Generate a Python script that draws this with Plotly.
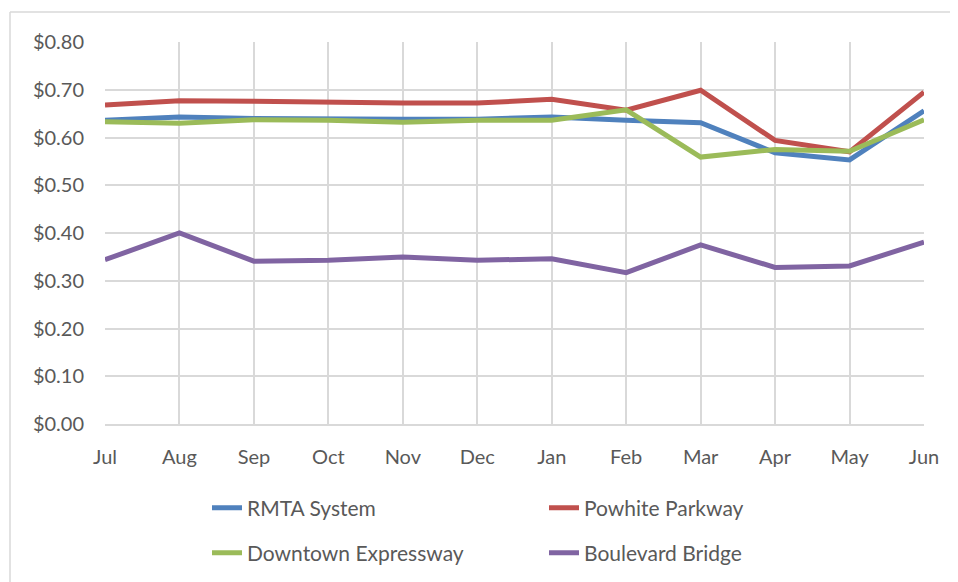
import plotly.graph_objects as go

months = ["Jul", "Aug", "Sep", "Oct", "Nov", "Dec", "Jan", "Feb", "Mar", "Apr", "May", "Jun"]
rmta = [0.636, 0.643, 0.640, 0.638, 0.638, 0.638, 0.643, 0.636, 0.631, 0.568, 0.553, 0.656]
powhite = [0.668, 0.677, 0.676, 0.673, 0.672, 0.672, 0.680, 0.657, 0.699, 0.594, 0.570, 0.695]
downtown = [0.633, 0.630, 0.637, 0.636, 0.632, 0.636, 0.636, 0.658, 0.559, 0.575, 0.571, 0.637]
boulevard = [0.344, 0.400, 0.341, 0.343, 0.350, 0.343, 0.346, 0.317, 0.375, 0.328, 0.331, 0.381]
y_ticks = [0.0, 0.1, 0.2, 0.3, 0.4, 0.5, 0.6, 0.7, 0.8]

series = [
    ("RMTA System", rmta, "#4F81BD", "legend"),
    ("Powhite Parkway", powhite, "#C0504D", "legend"),
    ("Downtown Expressway", downtown, "#9BBB59", "legend2"),
    ("Boulevard Bridge", boulevard, "#8064A2", "legend2"),
]

FONT = "Lato"
GRAY = "#595959"
GRID = "#d9d9d9"

fig = go.Figure()
for name, vals, color, lg in series:
    fig.add_trace(go.Scatter(x=months, y=vals, name=name, mode="lines",
                             line=dict(color=color, width=5), legend=lg))

# page body is offset by 8px; work in screen coords and convert
OFF = 8
W, H = 950, 574
L, R, T = 105 - OFF, 34, 42 - OFF
B = H - (424 - OFF)
pw, ph = W - L - R, H - T - B

def px(x):
    return (x - OFF - L) / pw

def py(y):
    return (H - B - (y - OFF)) / ph

def cx(x):
    return (x - OFF) / W

def cy(y):
    return 1 - (y - OFF) / H

legend_common = dict(orientation="h", xanchor="left", yanchor="middle",
                     xref="container", yref="container",
                     font=dict(family=FONT, size=21, color=GRAY),
                     entrywidth=292, entrywidthmode="pixels",
                     borderwidth=0, bgcolor="rgba(0,0,0,0)")

border = dict(color=GRID, width=1.5)

fig.update_layout(
    width=W, height=H,
    margin=dict(l=L, r=R, t=T, b=B, pad=0),
    plot_bgcolor="white", paper_bgcolor="white",
    font=dict(family=FONT, size=20, color=GRAY),
    showlegend=True,
    legend=dict(x=cx(207), y=cy(508), **legend_common),
    legend2=dict(x=cx(207), y=cy(553), **legend_common),
    xaxis=dict(type="category", range=[0, 11], showgrid=True, gridcolor=GRID, gridwidth=1.5,
               showline=True, linecolor=GRID, linewidth=1.5, mirror=False,
               ticks="", ticklabelstandoff=14, zeroline=False,
               tickfont=dict(family=FONT, size=20, color=GRAY)),
    yaxis=dict(range=[0, 0.8], tickvals=y_ticks, tickformat="$.2f",
               showgrid=True, gridcolor=GRID, gridwidth=1.5, zeroline=False,
               showline=False, ticks="", ticklabelstandoff=20,
               tickfont=dict(family=FONT, size=20, color=GRAY)),
    shapes=[
        dict(type="line", xref="paper", yref="paper", x0=px(10), x1=px(990),
             y0=py(12), y1=py(12), line=border, layer="below"),
        dict(type="line", xref="paper", yref="paper", x0=px(10), x1=px(10),
             y0=py(12), y1=py(600), line=border, layer="below"),
    ],
)

fig.write_html("out.html")
